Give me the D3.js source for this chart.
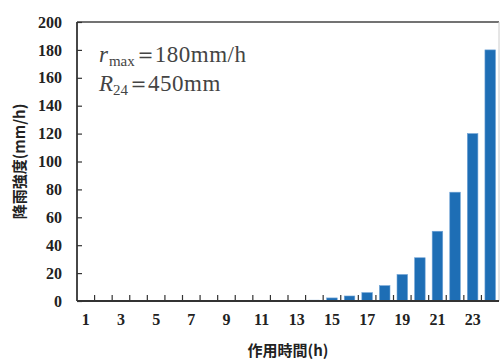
<!DOCTYPE html>
<html>
<head>
<meta charset="utf-8">
<style>
  body { margin: 0; background: #fff; }
  svg { display: block; }
  .tick text { font-family: "Liberation Serif", serif; font-weight: bold; font-size: 16px; fill: #222; }
  .note { font-family: "Liberation Serif", serif; font-size: 23px; fill: #444; }
  .title { font-family: "Noto Sans CJK JP", sans-serif; font-weight: bold; font-size: 15px; fill: #222; }
</style>
</head>
<body>
<svg id="chart"></svg>
<script src="https://d3js.org/d3.v7.min.js"></script>
<script>
  const width = 500;
  const height = 360;

  // hours 1..24 and rain intensity (mm/h)
  const hours = d3.range(1, 25);
  const intensity = [0.1, 0.1, 0.1, 0.1, 0.2, 0.2, 0.2, 0.2, 0.3, 0.3, 0.4, 0.4,
                     0.5, 0.6, 2.2, 3.6, 6, 11, 19, 31, 50, 78, 120, 180];
  const yTicks = [0, 20, 40, 60, 80, 100, 120, 140, 160, 180, 200];
  const xLabels = [1, 3, 5, 7, 9, 11, 13, 15, 17, 19, 21, 23];

  const margin = { top: 22, right: 1, bottom: 59, left: 77 };
  const svg = d3.select('#chart').attr('width', width).attr('height', height);

  const x = d3.scaleBand()
      .domain(hours)
      .range([margin.left, width - margin.right])
      .paddingInner(0.4)
      .paddingOuter(0.2);

  const y = d3.scaleLinear()
      .domain([0, 200])
      .range([height - margin.bottom, margin.top]);

  // frame: top dark, right light
  svg.append('line')
      .attr('x1', margin.left).attr('x2', width - margin.right)
      .attr('y1', margin.top).attr('y2', margin.top)
      .attr('stroke', '#444').attr('stroke-width', 1.5);
  svg.append('line')
      .attr('x1', width - margin.right).attr('x2', width - margin.right)
      .attr('y1', margin.top).attr('y2', height - margin.bottom)
      .attr('stroke', '#ccc').attr('stroke-width', 1);

  // bars
  svg.append('g').selectAll('rect')
      .data(hours)
      .join('rect')
      .attr('x', d => x(d))
      .attr('width', x.bandwidth())
      .attr('y', (d, i) => y(intensity[i]))
      .attr('height', (d, i) => y(0) - y(intensity[i]))
      .attr('fill', '#1e6eb5')
      .attr('stroke', '#6fa3d6')
      .attr('stroke-width', 0.6);

  // y axis, ticks pointing inward
  const yAxis = svg.append('g')
      .attr('transform', `translate(${margin.left},0)`)
      .call(d3.axisRight(y).tickValues(yTicks).tickSize(5));
  yAxis.selectAll('.tick text').attr('text-anchor', 'end').attr('x', -15);
  yAxis.select('.domain').remove();
  yAxis.selectAll('.tick line').attr('stroke', '#333').attr('stroke-width', 1.2);
  svg.append('line')
      .attr('x1', margin.left).attr('x2', margin.left)
      .attr('y1', margin.top).attr('y2', height - margin.bottom)
      .attr('stroke', '#333').attr('stroke-width', 1.8);

  // x axis: tick marks between bands (inward), odd labels centred in bands
  const gap = x.paddingInner() * x.step() / 2;
  svg.append('g').selectAll('line')
      .data(hours.slice(1))
      .join('line')
      .attr('x1', d => x(d) - gap)
      .attr('x2', d => x(d) - gap)
      .attr('y1', y(0)).attr('y2', y(0) - 6)
      .attr('stroke', '#333').attr('stroke-width', 1.2);

  const xAxis = svg.append('g')
      .attr('transform', `translate(0,${y(0)})`)
      .call(d3.axisBottom(x).tickValues(xLabels).tickSize(0).tickPadding(13));
  xAxis.select('.domain').remove();
  svg.append('line')
      .attr('x1', margin.left).attr('x2', width - margin.right)
      .attr('y1', y(0)).attr('y2', y(0))
      .attr('stroke', '#333').attr('stroke-width', 1.8);

  // annotation
  const n1 = svg.append('text').attr('class', 'note').attr('x', 99).attr('y', 62);
  n1.append('tspan').attr('font-style', 'italic').text('r');
  n1.append('tspan').attr('font-size', 15).attr('dy', 4).attr('dx', 1).text('max');
  n1.append('tspan').attr('dy', -4).attr('dx', -1).text('＝');
  n1.append('tspan').attr('dx', -2).attr('letter-spacing', 0.5).text('180mm/h');
  const n2 = svg.append('text').attr('class', 'note').attr('x', 99).attr('y', 91);
  n2.append('tspan').attr('font-style', 'italic').text('R');
  n2.append('tspan').attr('font-size', 15).attr('dy', 4).text('24');
  n2.append('tspan').attr('dy', -4).attr('dx', -1).text('＝');
  n2.append('tspan').attr('dx', -2).attr('letter-spacing', 0.5).text('450mm');

  // axis titles
  svg.append('text').attr('class', 'title')
      .attr('text-anchor', 'middle')
      .attr('transform', `translate(25,${(margin.top + y(0)) / 2}) rotate(-90)`)
      .text('降雨強度(mm/h)');
  svg.append('text').attr('class', 'title')
      .attr('text-anchor', 'middle')
      .attr('x', 288).attr('y', 356)
      .text('作用時間(h)');
</script>
</body>
</html>
